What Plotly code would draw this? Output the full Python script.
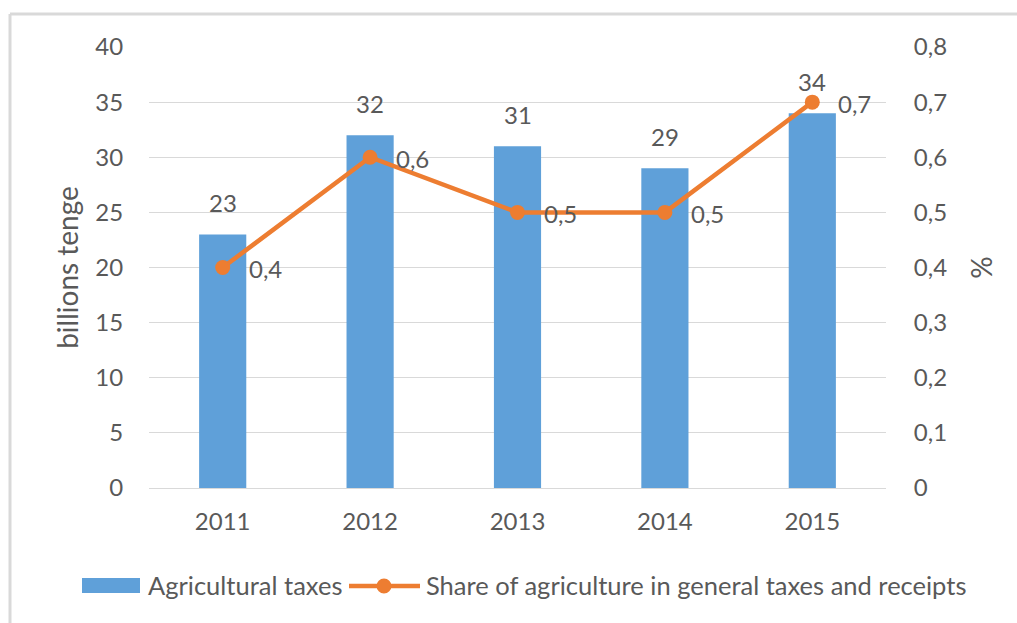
import plotly.graph_objects as go

years = ["2011", "2012", "2013", "2014", "2015"]
agri_taxes = [23, 32, 31, 29, 34]
share_pct = [0.4, 0.6, 0.5, 0.5, 0.7]

bar_name = "Agricultural taxes"
line_name = "Share of agriculture in general taxes and receipts"
left_title = "billions tenge"
right_title = "%"

FONT = "Lato"
GRAY = "#595959"
BLUE = "#5FA0D9"
ORANGE = "#ED7D31"
GRID = "#D9D9D9"

W, H = 1017, 623
ML, MR, MT, MB = 149, 131, 47, 135
PW, PH = W - ML - MR, H - MT - MB


def px(x):
    return (x - ML) / PW


def py(y):
    return (H - MB - y) / PH


fig = go.Figure()
fig.add_trace(go.Bar(
    x=years, y=agri_taxes, name=bar_name,
    marker=dict(color=BLUE, line=dict(width=0)),
    showlegend=False,
))
fig.add_trace(go.Scatter(
    x=years, y=share_pct, name=line_name, yaxis="y2",
    mode="lines+markers",
    line=dict(color=ORANGE, width=4.5),
    marker=dict(color=ORANGE, size=15),
    cliponaxis=False, showlegend=False,
))

annotations = []
# category axis: annotation x given as category index
for i, v in enumerate(agri_taxes):
    annotations.append(dict(x=i, y=v, xref="x", yref="y", text=str(v),
                            showarrow=False, yanchor="bottom", yshift=15,
                            font=dict(family=FONT, size=24, color=GRAY)))
for i, v in enumerate(share_pct):
    annotations.append(dict(x=i, y=v, xref="x", yref="y2",
                            text=str(v).replace(".", ","),
                            showarrow=False, xanchor="left", yanchor="middle",
                            xshift=24, yshift=-1,
                            font=dict(family=FONT, size=24, color=GRAY)))

# legend texts
annotations.append(dict(x=px(146), y=py(585), xref="paper", yref="paper",
                        text=bar_name, showarrow=False, xanchor="left",
                        yanchor="middle", font=dict(family=FONT, size=25.5, color=GRAY)))
annotations.append(dict(x=px(424), y=py(585), xref="paper", yref="paper",
                        text=line_name, showarrow=False, xanchor="left",
                        yanchor="middle", font=dict(family=FONT, size=25.5, color=GRAY)))

shapes = [
    # chart frame (top and left edges)
    dict(type="line", xref="paper", yref="paper", x0=px(10), x1=px(W + 5),
         y0=py(14), y1=py(14), line=dict(color=GRID, width=3)),
    dict(type="line", xref="paper", yref="paper", x0=px(10), x1=px(10),
         y0=py(14), y1=py(H + 5), line=dict(color=GRID, width=3)),
    # legend keys
    dict(type="rect", xref="paper", yref="paper", x0=px(82), x1=px(140),
         y0=py(593), y1=py(578), fillcolor=BLUE, line=dict(width=0)),
    dict(type="line", xref="paper", yref="paper", x0=px(349), x1=px(420),
         y0=py(586), y1=py(586), line=dict(color=ORANGE, width=4.5)),
    dict(type="circle", xref="paper", yref="paper", x0=px(376.5), x1=px(391.5),
         y0=py(593.5), y1=py(578.5), fillcolor=ORANGE, line=dict(width=0)),
]

fig.update_layout(
    width=W, height=H,
    margin=dict(l=ML, r=MR, t=MT, b=MB),
    paper_bgcolor="white", plot_bgcolor="white",
    separators=", ",
    font=dict(family=FONT, size=24, color=GRAY),
    bargap=0.68,
    showlegend=False,
    annotations=annotations,
    shapes=shapes,
    xaxis=dict(type="category", range=[-0.5, len(years) - 0.5],
               showgrid=False, showline=True, linecolor=GRID, linewidth=1,
               ticks="outside", ticklen=12, tickcolor="rgba(0,0,0,0)",
               tickfont=dict(size=24, color=GRAY)),
    yaxis=dict(range=[0, 40], dtick=5, showgrid=True, gridcolor=GRID,
               zeroline=False, showline=False, ticks="outside", ticklen=20,
               tickcolor="rgba(0,0,0,0)",
               title=dict(text=left_title, font=dict(size=28, color=GRAY), standoff=8),
               tickfont=dict(size=24, color=GRAY)),
    yaxis2=dict(range=[0, 0.8], overlaying="y", side="right",
                showgrid=False, zeroline=False, showline=False,
                ticks="outside", ticklen=22, tickcolor="rgba(0,0,0,0)",
                tickvals=[0, 0.1, 0.2, 0.3, 0.4, 0.5, 0.6, 0.7, 0.8],
                ticktext=["0", "0,1", "0,2", "0,3", "0,4", "0,5", "0,6", "0,7", "0,8"],
                title=dict(text=right_title, font=dict(size=28, color=GRAY), standoff=26),
                tickfont=dict(size=24, color=GRAY)),
)

fig.write_html("out.html")
